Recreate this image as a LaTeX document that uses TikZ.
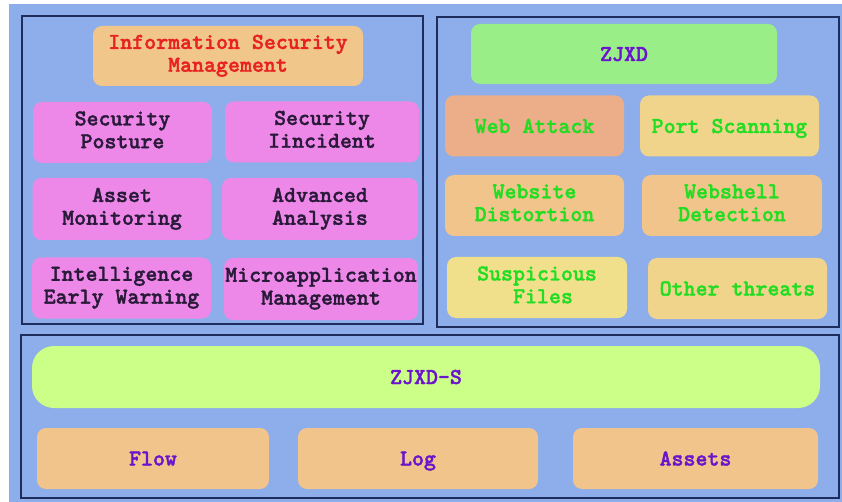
\documentclass[tikz,border=0pt]{standalone}
\usepackage{fontspec}
\newfontfamily\tilefont[FakeBold=1.6]{lmmonolt10-bold.otf}
\usetikzlibrary{positioning}

\definecolor{bgblue}{HTML}{8DAEEA}
\definecolor{frameblue}{HTML}{1F2D5C}
\definecolor{mgmtorange}{HTML}{F0C68A}
\definecolor{mgmtred}{HTML}{E82222}
\definecolor{modpink}{HTML}{EE88E8}
\definecolor{modtext}{HTML}{2A1A3A}
\definecolor{engreen}{HTML}{99EE88}
\definecolor{enpurple}{HTML}{6A14CC}
\definecolor{salmon}{HTML}{EBAE88}
\definecolor{sand}{HTML}{F0C48A}
\definecolor{wheat}{HTML}{F0D48C}
\definecolor{straw}{HTML}{F0E08C}
\definecolor{threatgreen}{HTML}{22DD22}
\definecolor{lime}{HTML}{CCFF88}

\newcommand{\tilestrut}{\rule[-5.5pt]{0pt}{25pt}}

\begin{document}
\begin{tikzpicture}[
  x=1pt, y=-1pt,
  font=\tilefont\fontsize{22.8}{22.8}\selectfont,
  panel/.style={draw=frameblue, line width=1.4pt},
  tile/.style={rounded corners=9pt, align=center, inner sep=1pt, minimum width=179pt, minimum height=61pt,
    execute at begin node=\tilestrut, execute at end node=\tilestrut},
  module/.style={tile, fill=modpink, text=modtext},
  threat/.style={tile, text=threatgreen},
  engine/.style={tile, fill=engreen, text=enpurple, minimum height=60pt},
  source/.style={tile, fill=sand, text=enpurple},
]

% page and backdrop
\useasboundingbox (0,0) rectangle (842,502);
\fill[white] (0,0) rectangle (842,502);
\fill[bgblue] (9,4) rectangle (842,502);

% three panels
\draw[panel] (22,16) rectangle (423,324);
\draw[panel] (437,17) rectangle (839,327);
\draw[panel] (21,335) rectangle (839,498);

% Information security management
\node[tile, fill=mgmtorange, text=mgmtred, minimum width=270pt, minimum height=60pt] (ism) at (228,56) {Information Security\\Management};
\node[module] (posture) at (122.5,132.5) {Security\\Posture};
\node[module, minimum width=194pt] (incident) at (322,132) {Security\\Iincident};
\node[module, minimum height=62pt] (asset) at (122,209) {Asset\\Monitoring};
\node[module, minimum width=196pt, minimum height=62pt] (analysis) at (320,209) {Advanced\\Analysis};
\node[module] (warning) at (121.5,288) {Intelligence\\Early Warning};
\node[module, minimum width=194pt, minimum height=62pt] (microapp) at (321,289) {Microapplication\\Management};

% ZJXD detection
\node[engine, minimum width=306pt] (zjxd) at (624,54) {ZJXD};
\node[threat, fill=salmon] (webattack) at (534.5,126) {Web Attack};
\node[threat, fill=wheat] (portscan) at (729.5,126) {Port Scanning};
\node[threat, fill=sand] (distortion) at (534.5,205.5) {Website\\Distortion};
\node[threat, fill=sand, minimum width=180pt] (webshell) at (732,205.5) {Webshell\\Detection};
\node[threat, fill=straw, minimum width=180pt] (suspicious) at (537,287.5) {Suspicious\\\ Files};
\node[threat, fill=wheat] (other) at (737.5,288.5) {Other threats};

% ZJXD-S data layer
\node[engine, fill=lime, rounded corners=22pt, minimum width=788pt, minimum height=62pt] (zjxds) at (426,377) {ZJXD-S};
\node[source, minimum width=232pt] (flow) at (153,458.5) {Flow};
\node[source, minimum width=240pt] (log) at (418,458.5) {Log};
\node[source, minimum width=245pt] (assets) at (695.5,458.5) {Assets};

\end{tikzpicture}
\end{document}
